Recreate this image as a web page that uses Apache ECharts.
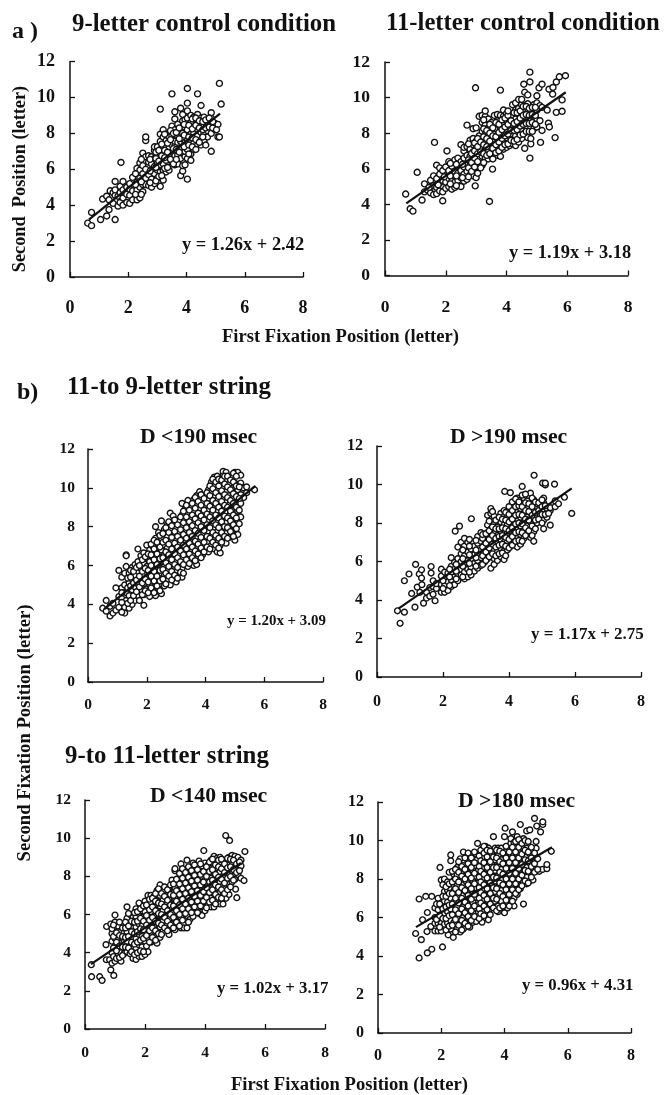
<!DOCTYPE html>
<html><head><meta charset="utf-8">
<style>html,body{margin:0;padding:0;background:#fff}#c{width:665px;height:1095px}</style>
<script src="https://cdn.jsdelivr.net/npm/echarts@6/dist/echarts.min.js"></script>
</head><body><div id="c"></div>
<script>
// Each row: [x, y, y, ...] values
const control9 = [[0.61,3.0],[0.74,2.86,3.6],[1.05,3.2],[1.12,4.34],[1.26,3.4,4.5],[1.34,3.75,4.3],[1.38,4.8],[1.48,4.1,4.7],[1.55,3.2,4.55,4.85,5.32],[1.65,3.95,4.5],[1.72,4.15,4.7,5.05],[1.75,6.38],[1.82,4.0,4.4,4.85,5.32],[1.95,4.15,4.6,5.0],[2.05,4.1,4.55,4.9,5.2],[2.15,4.3,4.8,5.55],[2.3,4.3,4.85,5.3,6.05],[2.4,4.4,5.0,5.5,5.95,6.35],[2.5,4.75,5.15,5.75,6.2,6.9],[2.6,5.15,5.5,6.0,6.7,7.6,7.8],[2.7,5.1,5.7,6.4,6.75],[2.8,5.0,5.45,5.95,6.3,6.7],[2.9,5.2,5.75,6.15,6.6,7.05,7.25],[3.0,5.5,5.95,6.4,6.85,7.25],[3.1,5.05,5.85,6.25,6.6,7.1,7.55,7.95,9.35],[3.2,5.4,5.95,6.3,6.9,7.3,7.8,8.2],[3.3,5.85,6.5,7.2,7.6],[3.4,5.95,6.7,7.25,7.8],[3.5,6.4,6.95,7.35,7.9,8.4,10.2],[3.6,6.25,6.75,7.3,7.55,8.2,8.8,9.2],[3.7,6.3,6.8,7.5,7.85,8.5],[3.8,5.65,6.6,7.1,7.55,8.2,9.4],[3.87,5.9,6.2,6.9,7.7,8.0,8.7,9.05],[3.95,6.25,6.7,7.0,7.5,8.35,8.75],[4.03,5.45,6.6,7.1,7.6,8.2,8.85,9.25,9.68,10.5],[4.15,6.5,6.85,7.5,7.95,8.6,9.0],[4.25,7.1,7.45,8.0,8.35,8.9],[4.38,7.35,7.85,8.2,8.6,9.05,10.2],[4.5,7.35,7.65,8.05,8.45,8.85,9.55],[4.6,7.55,8.0,8.4,8.9],[4.72,7.8,8.15,8.6],[4.85,7.0,8.0,8.45,8.85,9.15],[4.98,8.2,8.55],[5.08,7.8,8.5],[5.13,7.8,10.78],[5.19,9.63],
[2.25,4.6,5.15,5.75],[2.45,4.6,5.3,6.55],[2.75,5.25,5.9,6.55],[2.95,5.35,6.1,6.6,6.95],[3.05,5.6,6.45,7.05],[3.15,5.65,6.75,7.4],[3.25,6.05,6.65,7.05,7.95],[3.35,6.1,6.95,7.45],[3.45,6.55,7.65,8.15],[3.55,6.3,7.15,8.0],[3.65,6.55,7.1,8.05],[3.75,6.95,7.7,8.3],[3.92,7.25,7.9,8.5],[4.08,6.85,7.35,7.8,8.45],[4.2,7.25,7.75,8.25,8.8],[4.32,7.1,7.65,8.45,8.85],[4.44,7.5,8.3,8.7],[4.56,7.8,8.2,8.65],[4.66,7.35,8.3,8.75],[4.78,8.35,8.85],[4.9,8.3,8.65],[5.03,8.2]];
const control11 = [[0.68,4.58],[0.83,3.75],[0.92,3.62],[1.06,5.8],[1.22,4.24],[1.3,4.7,5.15],[1.4,4.8],[1.5,4.65,5.0,5.35],[1.6,4.55,5.05,5.6],[1.63,7.48],[1.7,4.6,4.95,5.45,6.2],[1.8,4.75,5.2,5.7,6.05],[1.9,4.2,4.7,5.35,5.9],[2.0,4.9,5.25,5.6,6.1],[2.04,7.0],[2.1,5.0,5.45,5.9,6.4],[2.2,4.85,5.3,5.7,6.15],[2.3,4.95,5.25,5.85,6.45,6.5],[2.4,5.35,5.75,6.15,6.6],[2.5,5.0,5.5,5.9,6.4,7.35],[2.6,5.3,5.7,6.1,6.6,7.0,7.2],[2.7,5.4,5.85,6.25,6.75,7.25,8.45],[2.8,5.65,6.2,6.7,7.1,7.6],[2.9,5.6,6.0,6.45,6.95,7.35,7.7,8.25],[2.97,5.04],[2.98,10.55],[3.0,5.5,6.2,6.7,7.15,7.55,8.3],[3.1,6.1,6.55,7.0,7.45,7.85,8.95],[3.2,6.2,6.7,7.2,7.65,8.1,8.6,9.0],[3.3,6.6,7.05,7.5,7.95,8.45,8.95,9.25],[3.4,6.55,6.95,7.4,7.85,8.3,8.8],[3.44,4.16],[3.5,6.7,7.3,7.7,8.15,8.6],[3.54,5.98],[3.6,7.05,7.5,7.95,8.4,9.0],[3.7,6.75,7.2,7.7,8.2,8.7,9.05],[3.8,6.7,7.35,7.85,8.35,9.0,10.42],[3.9,7.1,7.55,8.05,8.5,8.95,9.3],[4.0,7.2,7.75,8.2,8.7,9.1],[4.1,7.3,7.85,8.35,8.85],[4.2,7.4,7.95,8.5,9.0,9.6],[4.3,7.3,7.85,8.3,8.8,9.3,9.7],[4.4,7.5,8.05,8.55,9.05,9.4,9.9],[4.5,7.7,8.2,8.65,9.15,9.6,9.9],[4.57,10.75],[4.6,7.15,8.0,8.4,8.9,9.35,10.3],[4.7,7.75,8.3,8.75,9.2,9.65,10.15],[4.77,6.6,10.88,11.43],[4.8,7.4,7.7,8.35,8.85,9.3],[4.9,8.25,8.7,9.2,9.6],[5.0,8.35,8.75,9.3,9.7,10.1],[5.07,10.55],[5.1,8.7,9.55],[5.12,7.48],[5.17,8.15,9.45,10.75],[5.34,9.3],[5.38,8.56],[5.41,8.35],[5.4,10.47],[5.52,10.2],[5.53,10.57],[5.6,7.75],[5.64,9.17,10.88],[5.74,11.17],[5.83,9.23,9.87],[5.94,11.23],
[1.45,4.95],[1.75,5.1],[1.95,5.55],[2.15,5.15,5.6,6.3],[2.35,5.05,5.6,6.25],[2.55,5.5,6.25],[2.75,5.55,6.05,6.5,7.4],[2.85,5.85,6.35,6.85],[2.95,6.1,6.6,7.0,7.45],[3.05,5.75,6.4,6.85,7.25,7.7],[3.15,6.05,6.95,7.5],[3.25,6.35,6.85,7.35,7.8,8.25,8.75],[3.35,6.75,7.25,7.7,8.15],[3.45,6.85,7.55,8.0,8.5],[3.55,6.55,7.15,7.85,8.3],[3.65,6.9,7.35,7.8,8.6],[3.75,7.0,7.5,8.05,8.5],[3.85,7.2,7.7,8.2,8.75],[3.95,7.35,7.85,8.35,8.85],[4.05,7.4,7.95,8.5,9.0,9.25],[4.15,7.6,8.15,8.7],[4.25,7.55,8.15,8.55,9.15],[4.35,7.65,8.2,8.65,9.15],[4.45,7.9,8.4,8.85,9.25],[4.55,7.95,8.5,9.0,9.5],[4.65,8.1,8.55,9.05,9.5],[4.75,8.1,8.55,9.0,9.4],[4.85,8.1,8.6,9.05,9.45],[4.95,8.5,9.0,9.45]];
const shortD190 = [[0.5,3.8],[0.62,3.65,4.2],[0.75,3.4,3.9],[0.85,3.55,4.05],[0.95,3.7,4.85],[1.05,3.85,4.4,5.75],[1.15,4.3,4.85,5.4],[1.25,3.55,3.85,5.0,5.6],[1.3,4.2,4.6,5.95,6.55,6.5],[1.4,3.8,4.45,5.1,5.6],[1.5,4.0,4.75,5.3,5.9],[1.6,4.2,4.9,5.5,6.05],[1.7,4.45,5.05,5.7,6.2,6.85],[1.8,4.75,5.3,5.85,6.5],[1.9,3.95,4.5,5.05,5.55,6.1,6.65],[2.0,4.8,5.4,5.95,6.4,7.05],[2.1,4.4,5.0,5.6,6.2,6.8],[2.2,4.7,5.3,5.85,6.45,7.0],[2.3,4.45,5.05,5.55,6.2,6.7,7.4,8.0],[2.4,4.8,5.3,5.9,6.45,7.1,7.7],[2.5,4.55,5.05,5.6,6.2,6.8,7.4,8.3],[2.6,4.95,5.5,5.95,6.55,7.05,7.85],[2.7,5.2,5.75,6.35,6.9,7.5,8.1],[2.8,5.0,5.55,6.15,6.7,7.3,7.9,8.7],[2.9,5.3,5.8,6.4,7.0,7.6,8.2,8.55],[3.0,5.15,5.7,6.25,6.8,7.35,7.95],[3.1,5.45,6.0,6.55,7.15,7.7,8.3],[3.2,5.4,5.85,6.35,6.9,7.45,8.0,8.6,9.2],[3.3,6.1,6.65,7.2,7.8,8.35,8.9],[3.4,5.95,6.4,7.0,7.55,8.1,8.7,9.35],[3.5,6.2,6.75,7.3,7.85,8.45,9.0],[3.6,6.0,6.55,7.1,7.65,8.25,8.8,9.4],[3.7,6.05,6.35,6.9,7.45,8.0,8.55,9.15,9.6],[3.8,6.7,7.25,7.8,8.4,8.9,9.45,9.8],[3.9,6.55,7.05,7.6,8.15,8.7,9.25],[4.0,6.85,7.4,7.95,8.5,9.05,9.6],[4.1,6.7,7.2,7.75,8.3,8.85,9.4,9.9],[4.2,7.05,7.55,8.1,8.65,9.2,9.75,10.3],[4.3,6.85,7.35,7.9,8.45,9.0,9.55,10.1,10.55],[4.4,6.7,7.2,7.75,8.25,8.8,9.35,9.9,10.6],[4.5,6.65,7.05,7.55,8.1,8.6,9.15,9.7,10.25],[4.6,7.3,7.85,8.4,8.95,9.5,10.05,10.65,10.85],[4.7,7.15,7.65,8.2,8.75,9.25,9.8,10.4,10.8],[4.8,7.45,8.0,8.55,9.1,9.6,10.2],[4.9,7.7,8.3,8.85,9.45,9.95,10.55],[5.0,7.3,7.95,8.6,9.15,9.75,10.25,10.8],[5.1,7.6,8.2,8.8,9.4,9.9,10.8],[5.2,8.5,9.2,9.65,10.25,10.65],[5.3,9.5,10.0],[5.4,9.75,10.05],[5.67,9.9],
[1.15,3.6,4.1,4.6],[1.35,4.05,4.85,5.35],[1.45,4.2,4.95,5.4,5.75],[1.55,4.45,5.1,5.7],[1.65,4.65,5.25,5.9],[1.75,4.2,4.9,5.45,6.0],[1.85,4.5,5.1,5.7,6.3],[1.95,4.7,5.3,5.85,6.45],[2.05,4.6,5.15,5.75,6.6],[2.15,4.85,5.45,6.0,6.55,7.1],[2.25,4.6,5.2,5.7,6.3,6.85,7.3],[2.35,4.95,5.45,6.05,6.6,7.2],[2.45,4.7,5.2,5.75,6.35,6.95,7.55],[2.55,5.3,5.8,6.4,7.2,7.65],[2.65,5.05,5.6,6.15,6.7,7.3,7.95],[2.75,5.45,5.95,6.55,7.1,7.7,8.25],[2.85,5.25,5.7,6.3,6.85,7.45,8.05],[2.95,5.5,6.05,6.6,7.15,7.75,8.35],[3.05,5.35,5.9,6.4,6.95,7.5,8.1],[3.15,5.65,6.2,6.75,7.3,7.85,8.5],[3.25,5.6,6.05,6.55,7.05,7.6,8.2,8.8],[3.35,6.3,6.85,7.4,7.95,8.5,9.1],[3.45,6.1,6.6,7.15,7.7,8.25,8.85],[3.55,6.4,6.95,7.5,8.05,8.6,9.2],[3.65,6.25,6.75,7.25,7.8,8.4,8.95,9.5],[3.75,6.6,7.1,7.65,8.2,8.7,9.3],[3.85,6.4,6.9,7.45,8.0,8.55,9.1,9.65],[3.95,6.7,7.2,7.8,8.35,8.85,9.45],[4.05,6.95,7.5,8.1,8.65,9.2,9.75],[4.15,6.85,7.4,7.95,8.5,9.05,9.6,10.1],[4.25,7.2,7.7,8.3,8.85,9.35,9.95,10.45],[4.35,7.05,7.55,8.1,8.6,9.2,9.75,10.3],[4.45,6.9,7.4,7.95,8.45,9.0,9.55,10.1,10.45],[4.55,7.2,7.7,8.25,8.8,9.3,9.85,10.4],[4.65,7.5,8.0,8.55,9.1,9.65,10.2,10.6],[4.75,7.4,7.95,8.45,9.0,9.5,10.05,10.6],[4.85,7.75,8.3,8.8,9.35,9.9,10.4],[4.95,7.5,8.1,8.6,9.2,9.7,10.3,10.75],[5.05,7.9,8.45,9.0,9.55,10.1,10.6],[5.15,8.15,8.85,9.45,10.05]];
const longD190 = [[0.62,3.44],[0.7,2.79],[0.83,3.37,5.0],[0.97,5.35],[1.05,4.34],[1.15,3.63],[1.17,5.85],[1.22,4.67],[1.28,5.35],[1.3,4.4],[1.35,5.14,5.57],[1.36,4.8],[1.41,3.84],[1.5,4.1,4.4],[1.6,4.2,4.65],[1.64,5.4,5.74],[1.7,4.3,4.7,5.0],[1.76,3.96],[1.8,4.6,4.85],[1.95,4.4,4.8,5.25,5.6],[2.05,4.4,4.75,5.05,5.45],[2.15,4.5,4.95,5.4],[2.25,4.7,5.05,5.45,5.75,6.2],[2.35,4.8,5.2,5.6,5.95],[2.37,7.58],[2.45,5.0,5.35,5.75,6.15,6.75],[2.5,7.84],[2.55,5.3,5.6,6.0,6.4,7.0],[2.65,5.1,5.45,5.85,6.3,6.8,7.2],[2.75,5.2,5.6,6.05,6.5,7.0],[2.85,5.3,5.7,6.15,6.65],[2.86,8.22],[2.95,5.5,5.9,6.35,6.8],[3.05,5.65,6.05,6.45,6.95,7.3],[3.15,5.8,6.2,6.6,7.05,7.5],[3.25,5.95,6.4,6.85,7.3],[3.35,6.15,6.55,7.0,7.5,7.9,8.4],[3.45,5.65,6.3,6.8,7.25,7.7,8.5,8.75],[3.55,5.85,6.15,6.6,7.0,7.45,7.95,8.35],[3.65,6.05,6.5,6.95,7.35,7.8,8.1],[3.75,6.25,6.7,7.15,7.6,8.05,8.5],[3.85,6.1,6.55,7.0,7.45,7.9,8.35,8.65],[3.87,9.64],[3.95,6.6,7.05,7.5,7.95,8.4],[4.04,9.58],[4.05,6.8,7.25,7.7,8.15,8.6,8.9],[4.15,6.95,7.4,7.85,8.3,8.75],[4.25,6.75,7.2,7.65,8.1,8.55,9.0,9.3],[4.35,6.9,7.4,7.85,8.3,8.75,9.2],[4.4,9.9],[4.45,7.2,7.6,8.05,8.5,8.95,9.3],[4.55,7.45,7.85,8.3,8.75,9.15],[4.65,7.25,7.6,8.05,8.6,9.0,9.55],[4.75,7.05,7.55,8.2,8.7,9.2],[4.76,10.48],[4.85,8.0,8.35,8.85,9.0],[4.95,8.4,8.8],[5.02,10.07],[5.05,7.7,8.15,8.6,9.05,9.3],[5.1,9.98,10.07],[5.15,8.3,8.75],[5.25,7.89,8.65,8.8],[5.38,10.02],[5.4,8.85,9.15],[5.5,9.0],[5.68,9.34],[5.9,8.5],
[2.0,4.6,5.0],[2.2,4.75,5.2,5.6],[2.4,5.1,5.5,5.85],[2.6,5.2,5.75,6.15,6.6],[2.8,5.45,5.9,6.35,6.8,7.15],[3.0,5.75,6.2,6.6,7.1],[3.2,5.85,6.3,6.75,7.2,7.4],[3.3,6.05,6.5,6.95,7.45],[3.4,6.25,6.7,7.15,7.6,8.1],[3.5,6.4,6.9,7.35,7.8,8.6],[3.6,6.3,6.75,7.2,7.7,8.15],[3.7,6.4,6.85,7.3,7.7,8.3],[3.8,6.45,6.9,7.35,7.75,8.2],[3.9,6.3,6.8,7.25,7.7,8.15,8.55],[4.0,6.7,7.15,7.6,8.05,8.45,8.85],[4.1,6.85,7.3,7.75,8.2,8.65,9.1],[4.2,7.05,7.5,7.95,8.4,8.85,9.25],[4.3,7.1,7.55,8.0,8.45,8.9,9.1],[4.4,7.05,7.5,7.95,8.4,8.85,9.45],[4.5,7.35,7.75,8.2,8.65,9.05,9.5],[4.6,7.6,8.15,8.6,9.0],[4.7,7.35,7.85,8.4,8.85,9.3],[4.8,7.7,8.15,8.55,9.1],[4.9,8.2,8.65,9.05],[5.0,8.0,8.45,8.85,9.2],[5.1,8.45,8.9],[5.2,8.5]];
const shortD140 = [[0.21,3.37],[0.22,2.74],[0.49,2.74],[0.57,2.55],[0.7,4.42],[0.71,3.63],[0.72,5.37],[0.82,3.63],[0.86,3.1,5.5],[0.9,3.45,4.0,4.6,5.0,5.25],[0.96,2.81],[1.0,3.55,4.35,4.75,5.6,5.97],[1.1,3.9,4.2,4.8,5.25,5.4],[1.2,3.55,4.0,4.5,5.1],[1.3,3.95,4.55,5.05],[1.4,4.05,4.6,5.1,5.8,6.4],[1.5,3.95,4.3,4.85,5.4,6.0],[1.6,3.7,4.2,4.7,5.3,5.85],[1.7,3.65,4.25,4.75,5.35,5.9,6.3],[1.8,3.8,4.4,4.95,5.5,6.05,6.6],[1.9,3.8,4.3,4.85,5.4,5.85,6.2],[2.0,3.9,4.6,5.1,5.65,6.15,6.7],[2.1,4.05,4.75,5.3,5.85,6.45,7.0],[2.2,4.55,5.05,5.6,6.15,6.65,7.0],[2.3,4.85,5.35,5.9,6.4,6.95],[2.4,4.5,5.1,5.6,6.15,6.7,7.25],[2.5,4.8,5.35,5.9,6.45,7.0,7.55],[2.6,5.1,5.65,6.2,6.75,7.2],[2.7,5.4,5.95,6.5,7.0],[2.8,4.95,5.2,5.75,6.3,6.8,7.35],[2.9,5.5,6.05,6.55,7.1,7.8],[3.0,5.2,5.8,6.35,6.85,7.4,8.3,8.4],[3.1,5.55,6.1,6.6,7.15,7.65],[3.2,5.3,5.85,6.4,6.95,7.45,7.95,8.65],[3.3,5.3,6.15,6.7,7.2,7.75,8.25],[3.4,5.3,5.95,6.5,7.0,7.55,8.05,8.85],[3.5,5.75,6.25,6.8,7.3,7.85,8.4],[3.6,5.9,6.55,7.05,7.6,8.15,8.7],[3.7,6.3,6.85,7.35,7.9,8.45],[3.8,6.05,6.6,7.15,7.7,8.25,8.8],[3.9,5.95,6.4,6.9,7.45,8.0,8.55],[3.96,9.35],[4.0,6.2,6.7,7.25,7.8,8.3,8.7],[4.1,6.5,7.0,7.55,8.1,8.6],[4.2,6.4,6.85,7.35,7.9,8.4,8.85],[4.3,6.4,7.15,7.65,8.2,8.7,9.05],[4.4,6.85,7.4,7.95,8.45,8.95],[4.5,6.55,7.2,7.7,8.25,8.75,9.0],[4.6,6.55,7.0,7.5,8.0,8.5,8.85],[4.69,10.14],[4.7,6.85,7.35,7.8,8.35,8.8],[4.8,7.05,7.6,8.1,8.6,9.0],[4.82,9.88],[4.9,7.7,8.3,8.75,9.1],[5.0,7.85,8.4,9.05],[5.02,7.33],[5.06,6.88],[5.1,8.1,8.9,9.0],[5.2,7.9,8.55,8.85],[5.3,7.78],[5.33,9.3],
[0.95,3.8,4.25,4.85,5.45],[1.05,3.7,4.1,4.55,5.05],[1.15,3.75,4.35,4.9,5.6],[1.25,3.85,4.3,4.85,5.3],[1.35,4.3,4.8,5.3,5.6],[1.45,4.25,4.85,5.4,6.05],[1.55,4.05,4.55,5.1,5.65],[1.65,3.9,4.45,5.0,5.6,6.1],[1.75,4.0,4.55,5.1,5.65,6.15],[1.85,4.1,4.65,5.25,5.8,6.3],[1.95,4.05,4.75,5.2,5.65,6.45],[2.05,4.35,4.9,5.45,5.95,6.5],[2.15,4.55,5.15,5.7,6.25,6.8],[2.25,4.8,5.3,5.85,6.4,6.85],[2.35,4.65,5.15,5.65,6.2,6.7,7.1],[2.45,5.0,5.55,6.05,6.6,7.35],[2.55,4.95,5.45,6.0,6.55,7.1],[2.65,5.3,5.85,6.4,6.95,7.45],[2.75,5.15,5.65,6.2,6.75,7.3],[2.85,5.45,6.0,6.5,7.05,7.55],[2.95,5.3,5.85,6.45,7.0,7.6],[3.05,5.6,6.2,6.7,7.25,7.85],[3.15,5.4,6.0,6.5,7.05,7.6,8.15],[3.25,5.7,6.3,6.8,7.35,7.9,8.4],[3.35,6.05,6.55,7.1,7.65,8.2],[3.45,5.6,6.3,6.85,7.4,7.95,8.5],[3.55,6.1,6.65,7.2,7.75,8.3],[3.65,6.4,6.95,7.5,8.05,8.6],[3.75,6.1,6.7,7.25,7.8,8.35],[3.85,6.45,7.0,7.55,8.1,8.65],[3.95,6.7,7.2,7.7,8.25],[4.05,6.35,6.9,7.4,8.0,8.5],[4.15,6.65,7.15,7.7,8.25,8.75],[4.25,6.75,7.3,7.8,8.35,8.9],[4.35,6.55,7.05,7.55,8.1,8.6],[4.45,6.9,7.45,7.95,8.5,8.85],[4.55,6.85,7.3,7.85,8.4,8.9],[4.65,7.1,7.65,8.2,8.65],[4.75,7.3,7.9,8.45,8.95],[4.85,7.45,8.0,8.5,8.9],[4.95,7.8,8.35,8.85],[5.05,8.2,8.65],[5.15,8.3,8.75]];
const longD180 = [[1.19,5.17],[1.3,3.9,6.96],[1.37,4.85],[1.41,5.88],[1.51,7.1],[1.55,5.27],[1.56,4.16,6.26],[1.67,5.53],[1.7,4.35,7.1],[1.8,5.3,5.7,6.0,6.5],[1.9,5.3,5.7,6.4,7.0],[1.96,8.6],[2.0,5.3,5.7,6.6,7.95],[2.04,4.47],[2.1,5.65,6.2,6.85,7.35,7.8,8.0],[2.2,5.7,6.3,6.8,7.4,7.85],[2.22,5.1],[2.3,5.4,5.85,6.45,7.0,7.45,8.95,9.25],[2.38,4.97],[2.4,5.75,6.2,6.8,7.4,7.95,8.25],[2.5,5.4,6.0,6.55,7.1,7.65,8.2,8.6],[2.6,5.25,5.7,6.3,6.85,7.35,7.9,8.45,9.05],[2.7,5.4,6.0,6.55,7.15,7.7,8.3,8.7,9.4],[2.8,5.65,6.15,6.75,7.3,7.85,8.4,9.05],[2.9,5.5,5.95,6.45,7.0,7.55,8.1,8.6],[3.0,5.75,6.25,6.8,7.35,7.9,8.45,9.2],[3.1,5.8,6.5,7.05,7.55,8.15,8.7,9.3],[3.15,6.05,6.65,7.25,7.8,8.4,9.85],[3.29,5.76],[3.3,6.3,6.9,7.45,8.0,8.55,9.1,9.55],[3.4,6.6,7.15,7.7,8.25,8.8,9.7],[3.49,5.88],[3.5,6.35,6.85,7.4,7.95,8.5,9.05,9.6],[3.6,6.6,7.1,7.65,8.2,8.75,9.3],[3.65,10.2],[3.7,6.85,7.35,7.9,8.45,9.0,9.6],[3.8,6.3,6.6,7.1,7.6,8.15,8.7,9.25,9.6],[3.9,6.85,7.4,7.95,8.5,9.0,9.6],[4.0,6.25,6.55,7.15,7.65,8.2,8.75,9.25,10.2],[4.02,10.64],[4.1,6.5,6.9,7.4,7.95,8.5,9.0,9.65],[4.2,6.7,7.15,7.7,8.25,8.75,9.3,9.85,10.1],[4.25,10.45],[4.3,6.6,7.0,7.45,8.0,8.5,9.05,9.55,9.9],[4.4,7.2,7.75,8.25,8.8,9.3,10.2],[4.5,7.5,8.0,8.5,9.05,9.65,10.0,10.83],[4.6,6.7,7.85,8.3,8.85,9.1,9.6,10.1],[4.7,7.75,8.1,8.6,9.15,9.6,10.5],[4.8,7.9,8.35,8.85,9.3,10.55],[4.9,7.95,8.55,9.0,9.55],[4.95,11.15],[5.0,8.4,9.15,9.6,9.95],[5.02,10.75],[5.1,8.4],[5.14,10.45],[5.2,8.5],[5.21,10.83,10.97],[5.34,8.54,8.75],[5.48,9.44],
[1.85,5.9,6.7],[1.95,5.5,6.1,6.7],[2.05,5.95,6.45,7.1,7.7],[2.15,5.35,5.95,6.55,7.1,7.6],[2.25,5.55,6.1,6.65,7.25,7.75,8.35],[2.35,5.6,6.15,6.7,7.25,7.85,8.4],[2.45,5.25,5.9,6.4,7.0,7.5,8.0,8.5],[2.55,5.6,6.2,6.75,7.3,7.85,8.35,8.9],[2.65,5.35,5.85,6.45,7.0,7.55,8.15,8.65],[2.75,5.7,6.25,6.8,7.4,8.0,8.5,9.1],[2.85,5.55,6.05,6.6,7.15,7.7,8.25,8.8,9.35],[2.95,5.85,6.35,6.95,7.5,8.05,8.6,9.1],[3.05,6.05,6.6,7.2,7.75,8.3,8.85,9.4],[3.2,5.95,6.45,7.0,7.55,8.1,8.65,9.2],[3.25,6.2,6.75,7.3,7.85,8.4,8.95,9.5],[3.35,6.1,6.6,7.15,7.7,8.25,8.85,9.35,9.7],[3.45,6.4,6.95,7.5,8.05,8.6,9.15,9.5],[3.55,6.15,6.7,7.25,7.8,8.35,8.9,9.45],[3.65,6.5,7.0,7.55,8.1,8.6,9.15],[3.75,6.35,6.95,7.5,8.05,8.6,9.1,9.5],[3.85,6.5,7.25,7.8,8.35,8.9,9.45],[3.95,6.6,7.1,7.7,8.25,8.8,9.35],[4.05,6.9,7.45,8.0,8.55,9.1,9.7],[4.15,6.6,7.2,7.75,8.3,8.85,9.4],[4.25,6.85,7.45,8.0,8.55,9.1,9.65],[4.35,7.25,7.75,8.3,8.85,9.4,9.95],[4.45,7.45,8.0,8.55,9.1,9.65,10.05],[4.55,7.65,8.2,8.75,9.3,9.85],[4.65,7.9,8.45,9.0,9.5,10.0],[4.75,7.8,8.4,8.95,9.4,9.95],[4.85,8.1,8.65,9.1,9.65],[4.95,8.35,8.8,9.35],[5.05,8.5,9.05]];

// Regression line end points
const fitControl9 = [[0.65,3.2],[5.15,9.1]];
const fitControl11 = [[0.7,4.05],[5.95,10.3]];
const fitShort190 = [[0.55,3.75],[5.7,10.1]];
const fitLong190 = [[0.65,3.55],[5.9,9.8]];
const fitShort140 = [[0.2,3.4],[5.2,8.7]];
const fitLong180 = [[1.2,5.5],[5.5,9.65]];

const xTicks = [0,2,4,6,8];
const yTicks = [0,2,4,6,8,10,12];

const serif = '"Liberation Serif","Times New Roman",serif';
const ink = '#111';
const flat = rows => rows.flatMap(r => r.slice(1).map(y => [r[0], y]));

const panels = [
 {pts:control9, fit:fitControl9, l:70, r:303, t:61.5, b:277, fs:18, mx:22, my:15, sym:6},
 {pts:control11, fit:fitControl11, l:385, r:628, t:62, b:275.5, fs:17.5, mx:23, my:15, sym:6},
 {pts:shortD190, fit:fitShort190, l:88, r:323, t:449, b:682, fs:15.5, mx:15, my:13, sym:5.8},
 {pts:longD190, fit:fitLong190, l:377, r:641, t:446, b:677, fs:16, mx:17, my:14, sym:5.8},
 {pts:shortD140, fit:fitShort140, l:85, r:325, t:800, b:1029, fs:15.5, mx:16, my:14, sym:5.8},
 {pts:longD180, fit:fitLong180, l:378, r:631, t:802, b:1033, fs:16, mx:15, my:14, sym:5.8}
];

const texts = [
 ['a )',12,32,24],['9-letter control condition',72,25,24.8],['11-letter control condition',386,24,24.7],
 ['b)',17,393,24],['11-to 9-letter string',67,388,24.8],['9-to 11-letter string',65,757,24.8],
 ['D <190 msec',140,437,21.7],['D >190 msec',450,437,21.7],['D <140 msec',150,796,21.7],['D >180 msec',458,801,21.7],
 ['y = 1.26x + 2.42',182,245,18.4],['y = 1.19x + 3.18',509,253,18.4],
 ['y = 1.20x + 3.09',227,621,14.9],['y = 1.17x + 2.75',531,635,17],
 ['y = 1.02x + 3.17',217,989,16.8],['y = 0.96x + 4.31',522,986,16.8],
 ['First Fixation Position (letter)',222,337,18.6],['First Fixation Position (letter)',231,1085,18.6]
];
const graphic = texts.map(([text,x,y,fs]) => ({type:'text',x,y,style:{text,fontFamily:serif,fontWeight:'bold',fontSize:fs,fill:ink,textAlign:'left',textVerticalAlign:'middle'}}));
graphic.push(
 {type:'text',x:20,y:179,rotation:Math.PI/2,style:{text:'Second  Position (letter)',fontFamily:serif,fontWeight:'bold',fontSize:18.3,fill:ink,textAlign:'center',textVerticalAlign:'middle'}},
 {type:'text',x:25,y:733,rotation:Math.PI/2,style:{text:'Second Fixation Position (letter)',fontFamily:serif,fontWeight:'bold',fontSize:18.7,fill:ink,textAlign:'center',textVerticalAlign:'middle'}}
);

const grid=[],xAxis=[],yAxis=[],series=[];
panels.forEach((p,i)=>{
 grid.push({left:p.l,top:p.t,width:p.r-p.l,height:p.b-p.t});
 const line={show:true,onZero:false,lineStyle:{color:ink,width:1.5}};
 const tick={show:true,inside:true,length:5,lineStyle:{color:ink,width:1.3}};
 const lab=(m)=>({margin:m,fontFamily:serif,fontWeight:'bold',fontSize:p.fs,color:ink,showMinLabel:true,showMaxLabel:true});
 xAxis.push({type:'value',gridIndex:i,min:xTicks[0],max:xTicks[xTicks.length-1],interval:xTicks[1]-xTicks[0],axisLine:line,axisTick:tick,axisLabel:lab(p.mx),splitLine:{show:false}});
 yAxis.push({type:'value',gridIndex:i,min:yTicks[0],max:yTicks[yTicks.length-1],interval:yTicks[1]-yTicks[0],axisLine:line,axisTick:tick,axisLabel:lab(p.my),splitLine:{show:false}});
 series.push({type:'scatter',xAxisIndex:i,yAxisIndex:i,data:flat(p.pts),symbol:'circle',symbolSize:p.sym,itemStyle:{color:'#fff',borderColor:'#111',borderWidth:1.4,opacity:1},z:2,silent:true});
 series.push({type:'line',xAxisIndex:i,yAxisIndex:i,data:p.fit,showSymbol:false,symbol:'none',lineStyle:{color:'#111',width:2.2},z:3,silent:true});
});

const chart=echarts.init(document.getElementById('c'),null,{renderer:'canvas'});
chart.setOption({animation:false,backgroundColor:'#fff',grid,xAxis,yAxis,series,graphic});
</script></body></html>
